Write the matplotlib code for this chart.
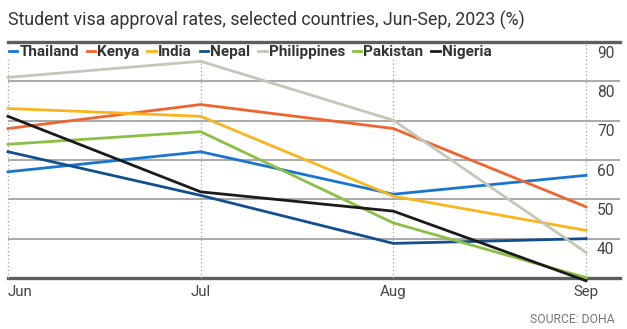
import matplotlib
matplotlib.use("Agg")
import matplotlib.pyplot as plt
from matplotlib import font_manager as fm
from matplotlib.lines import Line2D
from matplotlib.transforms import blended_transform_factory

# ---------------- data ----------------
months = ["Jun", "Jul", "Aug", "Sep"]
countries = ["Thailand", "Kenya", "India", "Nepal", "Philippines", "Pakistan", "Nigeria"]
thailand = [57.0, 62.1, 51.3, 56.1]
kenya = [68.0, 74.1, 68.0, 48.1]
india = [73.1, 71.1, 50.8, 42.1]
nepal = [62.1, 51.0, 38.8, 40.0]
philippines = [81.0, 85.1, 70.1, 36.5]
pakistan = [64.0, 67.2, 44.0, 30.1]
nigeria = [71.1, 51.9, 47.0, 29.3]
yticks = [40, 50, 60, 70, 80, 90]
colors = ["#1a75cf", "#f0642d", "#f8b51d", "#134f8c", "#c5c6b6", "#8cbf45", "#1b1b1b"]
series = [thailand, kenya, india, nepal, philippines, pakistan, nigeria]

title = "Student visa approval rates, selected countries, Jun-Sep, 2023 (%)"
source = "SOURCE: DOHA"


def has_font(name):
    try:
        fm.findfont(fm.FontProperties(family=name), fallback_to_default=False)
        return True
    except Exception:
        return False


COND = "Liberation Sans Narrow" if has_font("Liberation Sans Narrow") else "Roboto"
NARROW = COND == "Liberation Sans Narrow"

W, H = 627, 329
fig = plt.figure(figsize=(W / 100, H / 100), dpi=100)


def fx(px):
    return px / W


def fy(py):
    return 1 - py / H


# axes: x=0 at px 8, x=3 at px 586; y=30 at px 278, y=90 at px 42
x_left, x_sep, x_right = 8, 586, 620
pxu = (x_sep - x_left) / 3.0
ax = fig.add_axes([fx(x_left), fy(278), fx(x_right - x_left), (278 - 42) / H])
ax.set_xlim(0, (x_right - x_left) / pxu)
ax.set_ylim(30, 90)
for s in ax.spines.values():
    s.set_visible(False)
ax.set_xticks([])
ax.set_yticks([])

xs = list(range(len(months)))

# gridlines
for v in yticks[:-1]:
    ax.axhline(v, color="#a3a3a3", lw=1.3, zorder=1)
ax.axhline(90, color="#5e5e5e", lw=2.4, zorder=6, clip_on=False)
ax.axhline(30, color="#5e5e5e", lw=2.4, zorder=1, clip_on=False)
for x in xs:
    ax.axvline(x, color="#a5a5a5", lw=0.9, ls=(0, (1, 2)), zorder=1, clip_on=False)

# data lines
for name, vals, c in zip(countries, series, colors):
    ax.plot(xs, vals, color=c, lw=2.0, solid_joinstyle="miter", clip_on=False,
            zorder=3, label=name)

lab_size = 12.5 if NARROW else 11.2

# y labels (right, under gridlines)
ylab_x = (597 - x_left) / pxu
for v in yticks:
    ax.text(ylab_x, v - 3.95, str(v), ha="left", va="baseline",
            fontsize=lab_size, color="#444444", family=COND)

# x labels
trans = blended_transform_factory(ax.transData, fig.transFigure)
for i, m in enumerate(months):
    ha = "left" if i == 0 else "center"
    ax.text(i, fy(296), m, ha=ha, va="baseline", transform=trans,
            fontsize=lab_size - 0.3, color="#444444", family=COND)

# title
t = fig.text(fx(8), fy(26), title, ha="left", va="baseline", family=COND,
             fontsize=14, color="#333333")
r = fig.canvas.get_renderer()
w = t.get_window_extent(r).width
t.set_fontsize(14 * (527 - 8) / w)

# source
fig.text(fx(615), fy(323), source, ha="right", va="baseline", family=COND,
         fontsize=10 if NARROW else 8.7, color="#767676")

# legend
handles = [Line2D([0], [0], color=c, lw=2.0) for c in colors]
leg = ax.legend(handles, countries, ncol=7, loc="center left",
                bbox_to_anchor=(fx(8), fy(52)), bbox_transform=fig.transFigure,
                frameon=True, facecolor="white", edgecolor="none", framealpha=1,
                borderpad=0.05, borderaxespad=0, handlelength=0.55,
                handletextpad=0.15, columnspacing=0.5,
                prop=dict(family=COND, weight="bold", size=12.5 if NARROW else 11))
leg.set_zorder(5)
for txt in leg.get_texts():
    txt.set_color("#333333")

fig.savefig("out.png", dpi=100, facecolor="white")
